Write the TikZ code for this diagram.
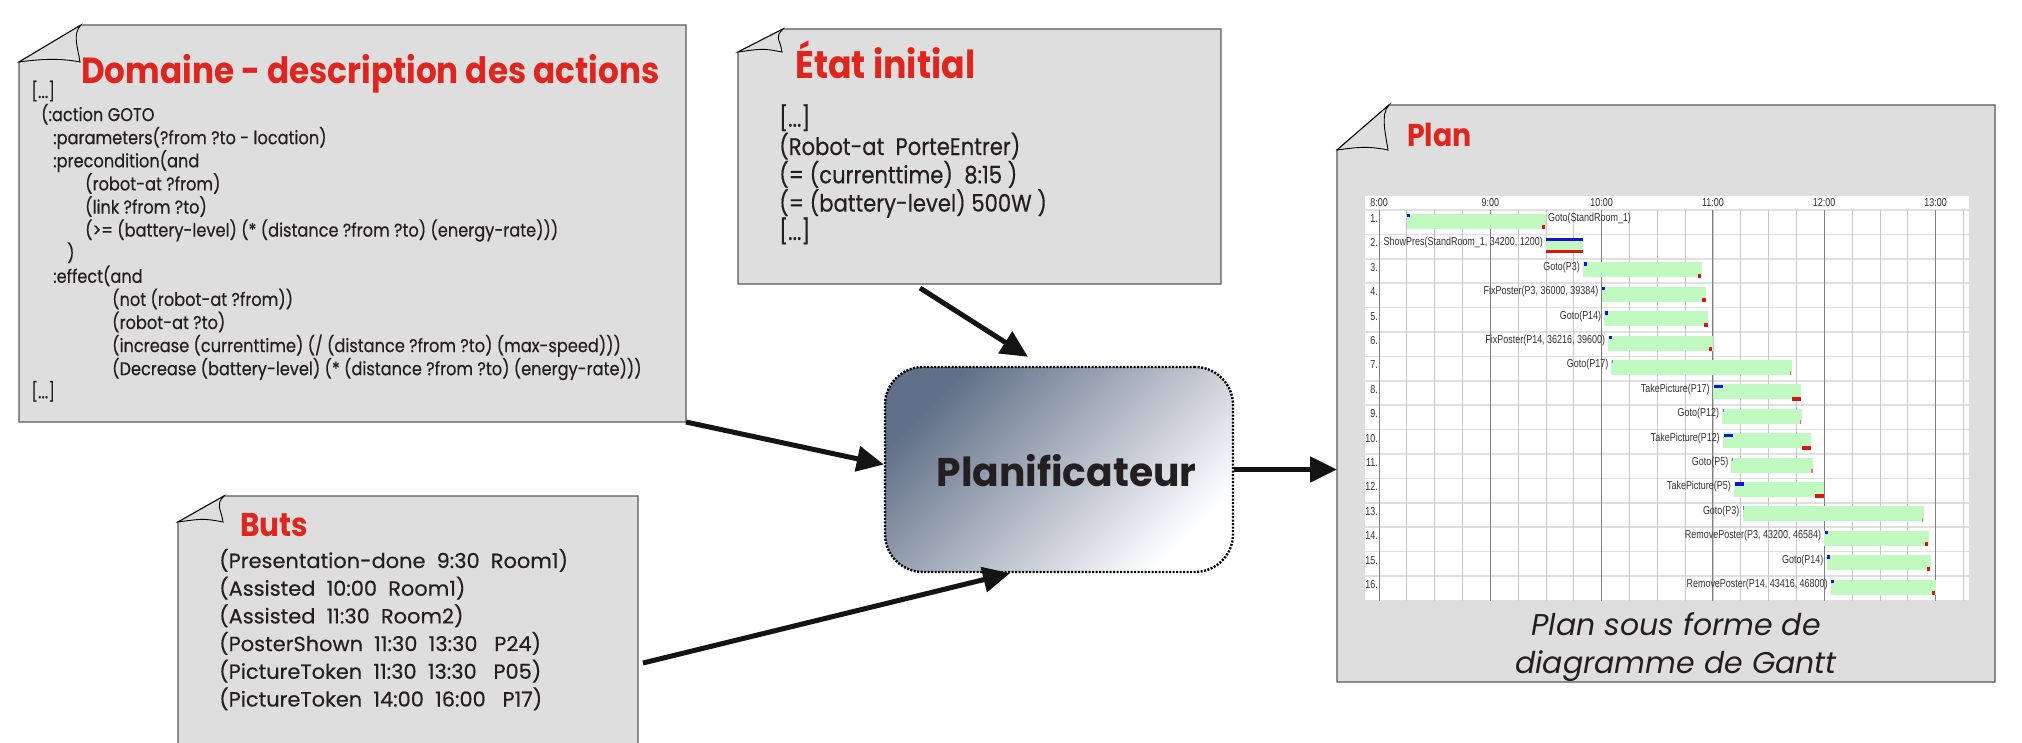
\documentclass[tikz,border=0pt]{standalone}
\usepackage{fontspec}
\usepackage{tikz}
\usetikzlibrary{arrows.meta}
\newfontfamily\titlefont[FakeStretch=0.9]{Poppins}
\newfontfamily\planfont[FakeStretch=0.98]{Poppins}
\newfontfamily\domfont[FakeStretch=0.875,FakeBold=0.4]{Poppins}
\newfontfamily\etatfont[FakeStretch=0.88,FakeBold=0.4]{Poppins}
\newfontfamily\butsfont[FakeStretch=1.02,FakeBold=0.4]{Poppins}
\newfontfamily\capfont{Poppins}
\newfontfamily\ganttfont[FakeStretch=0.78]{Liberation Sans}
\definecolor{notegray}{RGB}{222,222,222}
\definecolor{notered}{RGB}{222,38,30}
\definecolor{ink}{RGB}{35,31,32}
\definecolor{slate}{RGB}{96,112,136}
\definecolor{mist}{RGB}{176,184,198}
\definecolor{bargreen}{RGB}{192,250,192}
\definecolor{startblue}{RGB}{20,20,210}
\definecolor{endred}{RGB}{220,20,20}
\newcommand{\elide}{[...]}
\newcommand{\foldednote}[3]{%
  \path (#1.north west) ++(#2,0) coordinate (#1-fa);
  \path (#1.north west) ++(0,#3) coordinate (#1-fb);
  \path (#1.north west) ++(#2-1,#3) coordinate (#1-fc);
  \filldraw[notebody] (#1-fa) -- (#1.north east) -- (#1.south east) -- (#1.south west) -- (#1-fb) -- cycle;
  \filldraw[flap] (#1-fb) -- (#1-fa) .. controls +(-9,9) and +(-2,-14) .. (#1-fc) .. controls +(-20,-4) and +(22,-3) .. (#1-fb) -- cycle;
}
\tikzset{
  note/.style={rectangle, inner sep=0pt, outer sep=0pt},
  notebody/.style={fill=notegray, draw=black!65, line width=1.4pt},
  flap/.style={fill=notegray, draw=black, line width=0.9pt},
  notetitle/.style={anchor=base west, inner sep=0pt, text=notered, font=\titlefont\bfseries\fontsize{#1}{#1}\selectfont},
  codeline/.style={anchor=base west, inner sep=0pt, text=ink},
  planner/.style={rectangle, rounded corners=38pt, draw=black, line width=2.4pt, dash pattern=on 2pt off 1.5pt,
    top color=slate, middle color=mist, bottom color=white, shading angle=45},
  feed/.style={draw=black!92, line width=5pt, -{Triangle[length=27pt,width=25pt]}},
  ganttlabel/.style={inner sep=0pt, text=black!80, font=\ganttfont\fontsize{11.5}{12}\selectfont},
  bar/.style={fill=bargreen},
  gridq/.style={draw=black!22, line width=0.8pt},
  gridh/.style={draw=black!50, line width=1pt},
  rowline/.style={draw=black!12, line width=1.5pt}
}
\begin{document}
\begin{tikzpicture}[x=1pt,y=-1pt]
\useasboundingbox (0,0) rectangle (2022,742);
\clip (0,0) rectangle (2022,742);
% Notes, planner and arrows:
\node[note, minimum width=667pt, minimum height=397pt] (dom) at (352.5,223.5) {};
\foldednote{dom}{62}{37}
\node[notetitle=36.3] (dom-title) at (81,83) {Domaine - description des actions};
\foreach \px/\txt [count=\i] in {31/{\elide}, 41/{(:action GOTO}, 53/{:parameters(?from ?to - location)},
    53/{:precondition(and}, 85/{(robot-at ?from)}, 85/{(link ?from ?to)},
    85/{(>= (battery-level) (* (distance ?from ?to) (energy-rate)))}, 67/{)}, 53/{:effect(and},
    112/{(not (robot-at ?from))}, 112/{(robot-at ?to)},
    112/{(increase (currenttime) (/ (distance ?from ?to) (max-speed)))},
    112/{(Decrease (battery-level) (* (distance ?from ?to) (energy-rate)))}, 31/{\elide}}
  \node[codeline, font=\domfont\fontsize{18.5}{20}\selectfont] (dom-\i) at (\px,74.9+23.1*\i) {\txt};

\node[note, minimum width=483pt, minimum height=255pt] (etat) at (979.5,156.5) {};
\foldednote{etat}{45}{23}
\node[notetitle=38.6] (etat-title) at (795,78) {État initial};
\foreach \txt [count=\i] in {{\elide}, {(Robot-at~~PorteEntrer)}, {(= (currenttime)~~8:15 )},
    {(= (battery-level) 500W )}, {\elide}}
  \node[codeline, font=\etatfont\fontsize{24}{26}\selectfont] (etat-\i) at (779,98.4+28.3*\i) {\txt};

\node[note, minimum width=460pt, minimum height=334pt] (buts) at (408,663) {};
\foldednote{buts}{46}{26}
\node[notetitle=32.9] (buts-title) at (240,536) {Buts};
\foreach \txt [count=\i] in {{(Presentation-done~~9:30~~Room1)}, {(Assisted~~10:00~~Room1)},
    {(Assisted~~11:30~~Room2)}, {(PosterShown~~11:30~~13:30~~~P24)},
    {(PictureToken~~11:30~~13:30~~~P05)}, {(PictureToken~~14:00~~16:00~~~P17)}}
  \node[codeline, font=\butsfont\fontsize{20.5}{22}\selectfont] (buts-\i) at (219,540.3+27.7*\i) {\txt};

\node[note, minimum width=658pt, minimum height=577pt] (plan) at (1666,393.5) {};
\foldednote{plan}{52}{45}
\node[notetitle=31.6] (plan-title) at (1407,146) {Plan};

\node[planner, minimum width=348pt, minimum height=205pt] (planif) at (1059,469.5) {};
\node[anchor=base, inner sep=0pt, text=ink, font=\planfont\bfseries\fontsize{40}{40}\selectfont] (planif-label) at (1066.5,486) {Planificateur};

\draw[feed] (dom.south east) -- ([yshift=5pt]planif.west);
\draw[feed] ([xshift=-59.5pt,yshift=-4pt]etat.south) -- ([xshift=-31pt,yshift=9pt]planif.north);
\draw[feed] ([xshift=5pt]buts.east) -- ([xshift=-49pt]planif.south);
\draw[feed] (planif.east) -- (planif.east -| plan.west);

% Gantt chart:
\fill[white] (1365,196) rectangle (1969,601);
\foreach \r in {0,...,16} \draw[rowline] (1365,210+24.4*\r) -- (1969,210+24.4*\r);
\foreach \q in {1,...,21} \draw[gridq] (1379+27.83*\q,210) -- (1379+27.83*\q,601);
\foreach \h in {0,...,5} \draw[gridh] (1379+111.3*\h,210) -- (1379+111.3*\h,601);
\foreach \h [count=\k from 0] in {8,...,13} \node[ganttlabel] (hour-\h) at (1379+111.3*\k,203) {\h:00};
\foreach \r in {1,...,16} \node[ganttlabel, anchor=east] (num-\r) at (1378,194.1+24.4*\r) {\r.};
\foreach \r/\s/\e/\txt in {3/110/174/{Goto(P3)}, 4/120/176.4/{FixPoster(P3, 36000, 39384)},
    5/121.5/177.5/{Goto(P14)}, 6/123.6/180/{FixPoster(P14, 36216, 39600)}, 7/125.3/222.6/{Goto(P17)},
    8/180/227.5/{TakePicture(P17)}, 9/185/228/{Goto(P12)}, 10/185.4/232.8/{TakePicture(P12)},
    11/190/234/{Goto(P5)}, 12/191.4/240/{TakePicture(P5)}, 13/196/293.6/{Goto(P3)},
    14/240/296.4/{RemovePoster(P3, 43200, 46584)}, 15/241.3/297.4/{Goto(P14)},
    16/243.6/300/{RemovePoster(P14, 43416, 46800)}}{
  \pgfmathsetmacro\yt{185.6+24.4*\r}
  \pgfmathsetmacro\xs{1379+1.855*\s}
  \pgfmathsetmacro\xe{1379+1.855*\e}
  \fill[bar] (\xs,\yt+3.5) rectangle (\xe,\yt+18.5);
  \node[ganttlabel, anchor=east] (task-\r) at (\xs-3,\yt+8.5) {\txt};
}
\fill[bar] (1406.8,213.5) rectangle (1546,228.5);
\node[ganttlabel, anchor=west] (task-1) at (1548,218.5) {Goto(StandRoom\_1)};
\fill[bar] (1546,237.9) rectangle (1583,252.9);
\fill[startblue] (1546,237.7) rectangle (1583,241);
\fill[endred] (1546,249.8) rectangle (1583,253.3);
\node[ganttlabel, anchor=east] (task-2) at (1543,242.9) {ShowPres(StandRoom\_1, 34200, 1200)};
\foreach \r/\s/\e in {1/15/90, 3/110/174, 4/120/176.4, 5/121.5/177.5, 6/123.6/180,
    14/240/296.4, 15/241.3/297.4, 16/243.6/300}{
  \pgfmathsetmacro\yt{185.6+24.4*\r}
  \fill[startblue] (1379.5+1.855*\s,\yt+3.5) rectangle (1382.5+1.855*\s,\yt+7);
  \fill[endred] (1375+1.855*\e,\yt+15) rectangle (1378.5+1.855*\e,\yt+19);
}
\foreach \r/\s/\e in {8/180/227.5, 10/185.4/232.8, 12/191.4/240}{
  \pgfmathsetmacro\yt{185.6+24.4*\r}
  \fill[startblue] (1380+1.855*\s,\yt+4) rectangle (1389+1.855*\s,\yt+7.5);
  \fill[endred] (1370+1.855*\e,\yt+16) rectangle (1379+1.855*\e,\yt+20);
}
\foreach \r/\s/\e in {7/125.3/222.6, 9/185/228, 11/190/234, 13/196/293.6}{
  \pgfmathsetmacro\yt{185.6+24.4*\r}
  \fill[startblue!60] (1379.5+1.855*\s,\yt+3.5) rectangle (1380.7+1.855*\s,\yt+7);
  \fill[endred!60] (1377.3+1.855*\e,\yt+15) rectangle (1378.5+1.855*\e,\yt+19);
}
\node[anchor=base, inner sep=0pt, text=ink, font=\capfont\itshape\fontsize{30}{30}\selectfont] (caption-1) at (1676,635) {Plan sous forme de};
\node[anchor=base, inner sep=0pt, text=ink, font=\capfont\itshape\fontsize{30}{30}\selectfont] (caption-2) at (1676,673) {diagramme de Gantt};
\end{tikzpicture}
\end{document}
